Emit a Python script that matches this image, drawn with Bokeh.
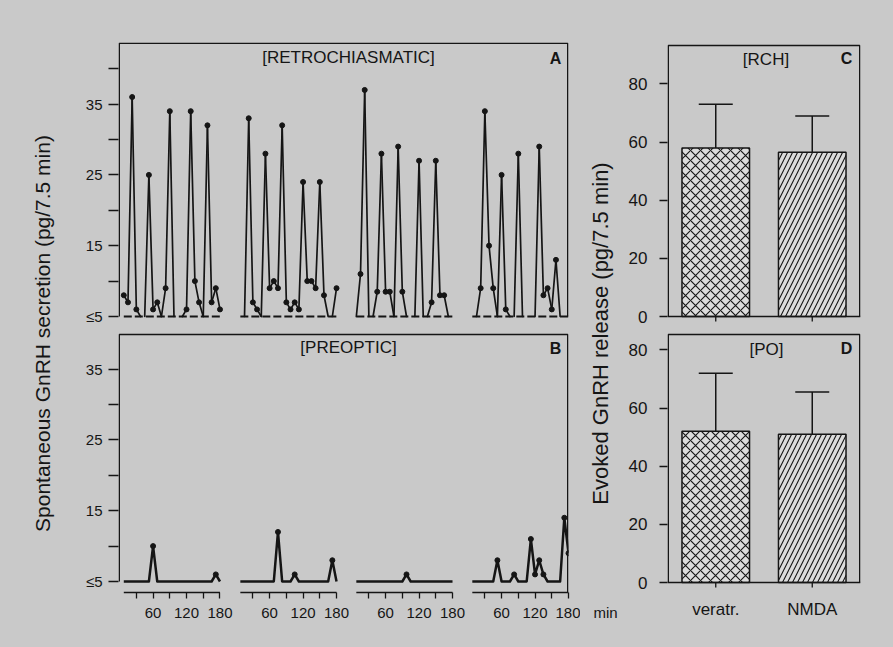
import math
from bokeh.plotting import figure
from bokeh.models import (Range1d, FactorRange, FixedTicker, Label, ColumnDataSource,
                          Whisker, TeeHead, GlobalInlineStyleSheet)
from bokeh.core.properties import field
from bokeh.layouts import row
from bokeh.embed import file_html
from bokeh.resources import INLINE

# ---------------- data ----------------
# sampling times within each 180-min record (7.5-min fractions)
times = [7.5, 15, 22.5, 30, 37.5, 45, 52.5, 60, 67.5, 75, 82.5, 90,
         97.5, 105, 112.5, 120, 127.5, 135, 142.5, 150, 157.5, 165, 172.5, 180]

# [RETROCHIASMATIC] spontaneous GnRH (pg/7.5 min), 4 animals
rch_1 = [8, 7, 36, 6, 5, 5, 25, 6, 7, 5, 9, 34, 5, 5, 5, 6, 34, 10, 7, 5, 32, 7, 9, 6]
rch_2 = [5, 5, 33, 7, 6, 5, 28, 9, 10, 9, 32, 7, 6, 7, 6, 24, 10, 10, 9, 24, 8, 5, 5, 9]
rch_3 = [5, 11, 37, 5, 5, 8.5, 28, 8.5, 8.5, 5, 29, 8.5, 5, 5, 5, 27, 5, 5, 7, 27, 8, 8, 5, 5]
rch_4 = [5, 5, 9, 34, 15, 9, 5, 25, 6, 5, 5, 28, 5, 5, 5, 5, 29, 8, 9, 6, 13, 5, 5, 5]

# [PREOPTIC] spontaneous GnRH (pg/7.5 min), 4 animals
po_1 = [5, 5, 5, 5, 5, 5, 5, 10, 5, 5, 5, 5, 5, 5, 5, 5, 5, 5, 5, 5, 5, 5, 6, 5]
po_2 = [5, 5, 5, 5, 5, 5, 5, 5, 5, 12, 5, 5, 5, 6, 5, 5, 5, 5, 5, 5, 5, 5, 8, 5]
po_3 = [5, 5, 5, 5, 5, 5, 5, 5, 5, 5, 5, 5, 6, 5, 5, 5, 5, 5, 5, 5, 5, 5, 5, 5]
po_4 = [5, 5, 5, 5, 5, 5, 8, 5, 5, 5, 6, 5, 5, 5, 11, 6, 8, 6, 5, 5, 5, 5, 14, 9]

x_tick_minutes = [30, 60, 90, 120, 150, 180]
x_tick_labels = ["", "60", "", "120", "", "180"]
spont_ticks = [5, 10, 15, 20, 25, 30, 35, 40]
spont_tick_labels = ["\u22645", "", "15", "", "25", "", "35", ""]

treatments = ["veratr.", "NMDA"]
rch_evoked_mean = [58, 56.5]
rch_evoked_sem = [15, 12.5]
po_evoked_mean = [52, 51]
po_evoked_sem = [20, 14.5]
evoked_ticks = [0, 20, 40, 60, 80]

# ---------------- style / layout ----------------
BG = "#c9c9c9"
BAR_FILL = "#dcdcdc"
INK = "#151515"
FONT = "Liberation Sans"
H = 647
FT, FB = 42, 594                 # common frame top / bottom (page y) for the whole row
TOP_B, BOT_B = FT, H - FB

# column widths on the page: title | panels A,B | "min"+title | panels C,D
X_T, X_AB, X_M, X_CD, X_END_PAGE = 0, 62, 580, 620, 893

# ---- panels A, B ----
FL, FR = 118, 568
SEG_START = [2, 211, 419, 627]             # where each animal's record begins (x units)
X_END = 807
PX_MIN = (FR - FL) / X_END
PXU = 7.08                                 # px per pg
B_BASE, A_BASE = 581, 316                  # page y of the <=5 baselines
Y0 = 5 - (FB - B_BASE) / PXU
Y1 = 5 + (B_BASE - FT) / PXU
A_OFF = (B_BASE - A_BASE) / PXU


def ax(px):
    return (px - FL) / PX_MIN


def ay(py):
    return 5 + (B_BASE - py) / PXU


def base_fig(**kw):
    f = figure(output_backend="svg", toolbar_location=None, title=None,
               background_fill_color=BG, border_fill_color=BG, outline_line_color=None,
               min_border_top=TOP_B, min_border_bottom=BOT_B, height=H, **kw)
    f.grid.visible = False
    return f


p = base_fig(width=X_M - X_AB, x_range=Range1d(0, X_END), y_range=Range1d(Y0, Y1),
             min_border_left=FL - X_AB, min_border_right=X_M - FR)
p.extra_y_ranges = {"A": Range1d(Y0 - A_OFF, Y1 - A_OFF)}

# x axis (segmented; ticks and labels from the Bokeh axis)
xa = p.xaxis[0]
xt, xl = [], {}
for s in SEG_START:
    for m, lab_ in zip(x_tick_minutes, x_tick_labels):
        xt.append(s + m)
        xl[s + m] = lab_
xa.ticker = FixedTicker(ticks=xt, minor_ticks=[])
xa.major_label_overrides = xl
xa.axis_line_color = None
xa.major_tick_in = 2
xa.major_tick_out = 4
xa.major_tick_line_color = INK
xa.major_tick_line_width = 1.3
xa.minor_tick_line_color = None
xa.major_label_standoff = 9
xa.major_label_text_font = FONT
xa.major_label_text_font_size = "15px"
xa.major_label_text_color = INK

# y axis (both panels)
ya = p.yaxis[0]
yt, yl = [], {}
for v, lab_ in zip(spont_ticks, spont_tick_labels):
    if v <= 35:
        yt.append(v)
        yl[v] = lab_
for v, lab_ in zip(spont_ticks, spont_tick_labels):
    t = v + A_OFF
    yt.append(t)
    yl[t] = lab_
ya.ticker = FixedTicker(ticks=yt, minor_ticks=[])
ya.major_label_overrides = yl
ya.axis_line_color = None
ya.major_tick_in = 0
ya.major_tick_out = 10
ya.major_tick_line_color = INK
ya.major_tick_line_width = 1.3
ya.minor_tick_line_color = None
ya.major_label_standoff = 6
ya.major_label_text_font = FONT
ya.major_label_text_font_size = "15px"
ya.major_label_text_color = INK

# frame lines
e = 0.75
xl_, xr_ = ax(FL + e), ax(FR - e)
a_top = ay(FT + e)
b_top = ay(334)
axis_y = ay(592)
p.multi_line(xs=[[xl_, xl_, xr_, xr_], [xl_, xl_, xr_, xr_]],
             ys=[[5 + A_OFF, a_top, a_top, 5 + A_OFF], [5, b_top, b_top, axis_y]],
             line_color=INK, line_width=1.5)

# segmented x-axis lines under panel B
p.segment(x0=[s + times[0] for s in SEG_START], x1=[s + x_tick_minutes[-1] for s in SEG_START],
          y0=axis_y, y1=axis_y, line_color=INK, line_width=1.5)

# panel A: dashed <=5 baselines and data
rch = [rch_1, rch_2, rch_3, rch_4]
po = [po_1, po_2, po_3, po_4]
p.segment(x0=[s + times[0] for s in SEG_START], x1=[s + times[-1] for s in SEG_START],
          y0=5, y1=5, y_range_name="A", line_color=INK, line_width=1.8, line_dash="8 3")
sx0, sy0, sx1, sy1, mx, my = [], [], [], [], [], []
for s, vals in zip(SEG_START, rch):
    xs = [s + t for t in times]
    for i in range(len(vals) - 1):
        if vals[i] <= 5 and vals[i + 1] <= 5:
            continue
        sx0.append(xs[i]); sy0.append(vals[i]); sx1.append(xs[i + 1]); sy1.append(vals[i + 1])
    for x, v in zip(xs, vals):
        if v > 5:
            mx.append(x); my.append(v)
p.segment(x0=sx0, y0=sy0, x1=sx1, y1=sy1, y_range_name="A",
          line_color=INK, line_width=1.7, line_cap="round")
p.scatter(mx, my, y_range_name="A", size=5, color=INK)

# panel B data
bmx, bmy = [], []
for s, vals in zip(SEG_START, po):
    xs = [s + t for t in times]
    p.line(xs, vals, line_color=INK, line_width=2.5, line_join="round")
    for x, v in zip(xs, vals):
        if v > 5:
            bmx.append(x); bmy.append(v)
p.scatter(bmx, bmy, size=5, color=INK)


def lab(fig, x, y, text, size, bold=False, angle=0.0, align="center"):
    fig.add_layout(Label(x=x, y=y, text=text, text_font=FONT, text_font_size=size,
                         text_font_style="bold" if bold else "normal", text_color=INK,
                         text_align=align, text_baseline="middle", angle=angle))


lab(p, ax(348), ay(57), "[RETROCHIASMATIC]", "17px")
lab(p, ax(555), ay(58), "A", "16px", bold=True)
lab(p, ax(348), ay(347), "[PREOPTIC]", "17px")
lab(p, ax(555), ay(348), "B", "16px", bold=True)

# ---- left title strip ----
t_fig = base_fig(width=X_AB - X_T, x_range=Range1d(X_T, X_AB), y_range=p.y_range,
                 min_border_left=0, min_border_right=0,
                 x_axis_location=None, y_axis_location=None)
lab(t_fig, 42, ay(333), "Spontaneous GnRH secretion (pg/7.5 min)", "21px", angle=math.pi / 2)

# ---- panels C, D ----
GL, GR = 667, 860
PXU2 = 2.907
D_BASE, C_BASE = 582, 316
CD_Y0 = -(FB - D_BASE) / PXU2
CD_Y1 = (D_BASE - FT) / PXU2
C_OFF = (D_BASE - C_BASE) / PXU2
CAT_PX = (GR - GL) / len(treatments)


def cx(px):
    return (px - GL) / CAT_PX


def cy(py):
    return (D_BASE - py) / PXU2


q = base_fig(width=X_END_PAGE - X_CD, x_range=FactorRange(*treatments),
             y_range=Range1d(CD_Y0, CD_Y1),
             min_border_left=GL - X_CD, min_border_right=X_END_PAGE - GR)
q.extra_y_ranges = {"C": Range1d(CD_Y0 - C_OFF, CD_Y1 - C_OFF)}

qy = q.yaxis[0]
qt, ql = [], {}
for v in evoked_ticks:
    qt.append(v); ql[v] = str(v)
for v in evoked_ticks:
    qt.append(v + C_OFF); ql[v + C_OFF] = str(v)
qy.ticker = FixedTicker(ticks=qt, minor_ticks=[])
qy.major_label_overrides = ql
qy.axis_line_color = None
qy.major_tick_in = 0
qy.major_tick_out = 8
qy.major_tick_line_color = INK
qy.major_tick_line_width = 1.3
qy.minor_tick_line_color = None
qy.major_label_standoff = 12
qy.major_label_text_font = FONT
qy.major_label_text_font_size = "17px"
qy.major_label_text_color = INK

qx = q.xaxis[0]
qx.axis_line_color = None
qx.major_tick_line_color = None
qx.major_tick_in = 0
qx.major_tick_out = 0
qx.major_label_standoff = 5
qx.major_label_text_font = FONT
qx.major_label_text_font_size = "17px"
qx.major_label_text_color = INK

hatches = ["x", "/"]
src_c = ColumnDataSource(dict(cat=treatments, mean=rch_evoked_mean,
                              hi=[m + s for m, s in zip(rch_evoked_mean, rch_evoked_sem)],
                              hatch=hatches))
src_d = ColumnDataSource(dict(cat=treatments, mean=po_evoked_mean,
                              hi=[m + s for m, s in zip(po_evoked_mean, po_evoked_sem)],
                              hatch=hatches))

for src, rng in ((src_c, "C"), (src_d, "default")):
    q.add_layout(Whisker(source=src, base="cat", lower="mean", upper="hi", dimension="height",
                         line_color=INK, line_width=1.5, y_range_name=rng,
                         upper_head=TeeHead(size=34, line_color=INK, line_width=1.5),
                         lower_head=None))
    q.vbar(x="cat", top="mean", bottom=0, width=0.7, source=src, y_range_name=rng,
           fill_color=BAR_FILL, line_color=INK, line_width=1.5,
           hatch_pattern=field("hatch"), hatch_color=INK, hatch_scale=10, hatch_weight=1.1)

# frame lines of C and D, their baselines and category ticks
e2 = 0.75
qxl, qxr = cx(GL + e2), cx(GR - e2)
c_top = cy(45) - C_OFF
d_top = cy(334)
tick_len = 5 / PXU2
for rng, top in (("C", c_top), ("default", d_top)):
    q.multi_line(xs=[[qxl, qxl, qxr, qxr]], ys=[[0, top, top, 0]], y_range_name=rng,
                 line_color=INK, line_width=1.5)
    q.segment(x0=[0], x1=[len(treatments)], y0=[0], y1=[0], y_range_name=rng,
              line_color=INK, line_width=1.5)
    q.segment(x0=treatments, x1=treatments, y0=[0] * len(treatments),
              y1=[-tick_len] * len(treatments), y_range_name=rng, line_color=INK, line_width=1.3)

lab(q, cx(765.5), cy(59), "[RCH]", "17px")
lab(q, cx(846), cy(58), "C", "16px", bold=True)
lab(q, cx(766), cy(349), "[PO]", "17px")
lab(q, cx(846), cy(348), "D", "16px", bold=True)

# ---- strip between B and D: y title of C/D and the "min" unit ----
m_fig = base_fig(width=X_CD - X_M, x_range=Range1d(X_M, X_CD), y_range=q.y_range,
                 min_border_left=0, min_border_right=0, y_axis_location=None)
lab(m_fig, 600, cy(333), "Evoked GnRH release (pg/7.5 min)", "22px", angle=math.pi / 2)
mxa = m_fig.xaxis[0]
mxa.ticker = FixedTicker(ticks=[605], minor_ticks=[])
mxa.major_label_overrides = {605: "min"}
mxa.axis_line_color = None
mxa.major_tick_line_color = None
mxa.minor_tick_line_color = None
mxa.major_tick_in = 0
mxa.major_tick_out = 0
mxa.major_label_standoff = 9
mxa.major_label_text_font = FONT
mxa.major_label_text_font_size = "15px"
mxa.major_label_text_color = INK

layout = row(t_fig, p, m_fig, q)
layout.stylesheets = [GlobalInlineStyleSheet(css="body { background-color: %s; }" % BG)]

open("out.html", "w").write(file_html(layout, INLINE))
